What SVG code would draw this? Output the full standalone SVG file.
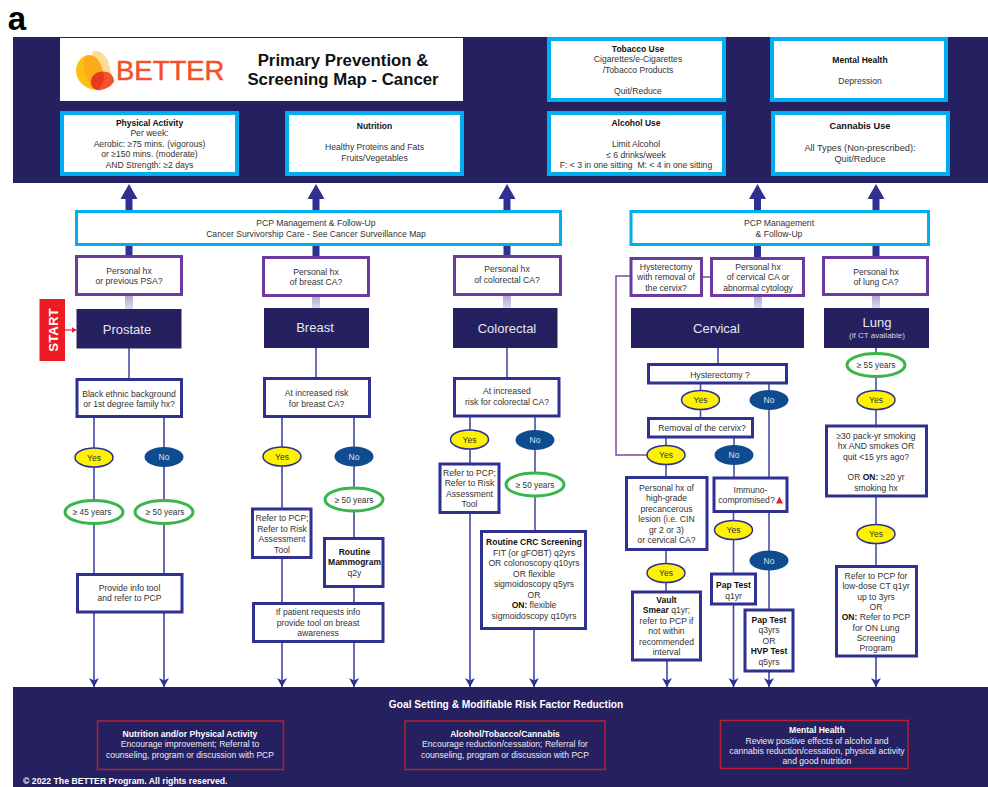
<svg xmlns="http://www.w3.org/2000/svg" width="988" height="787" viewBox="0 0 988 787">
<style>
text{font-family:"Liberation Sans",Arial,sans-serif;font-size:8.600px;fill:#333;text-anchor:middle}
.b{font-weight:bold;fill:#111;font-size:8.500px}
.band{fill:#25205f}
.cy{fill:#fff;stroke:#00aeef;stroke-width:4}
.pc{fill:#fff;stroke:#00aeef;stroke-width:3}
.pu{fill:#fff;stroke:#6a3a9c;stroke-width:3}
.bx{fill:#fff;stroke:#2e3192;stroke-width:3}
.dis{fill:#25205f}
.dl{font-size:13px;fill:#e6e6f2}
.yes{fill:#fff200;stroke:#2e3192;stroke-width:1.5}
.no{fill:#0f4c8f}
.ol{font-size:8.500px}
.nl{font-size:8.500px;fill:#d8e2f0}
.gr{fill:#fff;stroke:#39b54a;stroke-width:3}
.gt{font-size:8.300px}
.rd{fill:none;stroke:#b5202f;stroke-width:1.5}
.w{fill:#ecebf5;font-size:8.600px}
.wb{fill:#fff;font-weight:bold;font-size:8.600px}
.c{fill:none;stroke:#4a50a8;stroke-width:1.6}
.a{fill:none;stroke:#3f45a3;stroke-width:1.6;marker-end:url(#dn)}
.up{fill:none;stroke:#2e3192;stroke-width:7;marker-end:url(#upm)}
.pl{fill:none;stroke:#7a4aa8;stroke-width:1.5}
</style>
<defs>
<marker id="dn" markerUnits="userSpaceOnUse" markerWidth="12" markerHeight="11" refX="6" refY="10" viewBox="0 0 12 11"><path d="M1 1 L6 3.500 L11 1 L6 10Z" fill="#2e3192"/></marker>
<marker id="upm" markerUnits="userSpaceOnUse" markerWidth="18" markerHeight="16" refX="9" refY="15.500" viewBox="0 0 18 16"><path d="M0.500 15.500 L9 0.500 L17.500 15.500Z" fill="#2e3192"/></marker>
<marker id="rda" markerUnits="userSpaceOnUse" markerWidth="5" markerHeight="6" refX="4.500" refY="3" orient="auto" viewBox="0 0 5 6"><path d="M0 0 L5 3 L0 6Z" fill="#ed1c24"/></marker>
<linearGradient id="fade" x1="0" y1="0" x2="0" y2="1"><stop offset="0" stop-color="#a7a7d2"/><stop offset="1" stop-color="#dedeee"/></linearGradient>
</defs>

<rect width="988" height="787" fill="#fff"/>
<text x="17" y="30" style="font-size:33px;font-weight:bold;fill:#000">a</text>

<rect id="band-top" class="band" x="13" y="37" width="975" height="146"/>
<rect id="band-bottom" class="band" x="13" y="687" width="975" height="100"/>

<g id="connectors">
<g id="up-arrows">
<path class="up" d="M129 211V199"/><path class="up" d="M316 211V199"/><path class="up" d="M507 211V199"/><path class="up" d="M757.500 211V199"/><path class="up" d="M876 211V199"/>
<path d="M125.500 245h7v11h-7zM312.500 245h7v12h-7zM503.500 245h7v11h-7zM754 245h7v13h-7zM872.500 245h7v12h-7z" fill="#2e3192"/>
<path d="M125 295h8v14h-8zM312 296h8v12h-8zM503 295h8v13h-8zM754 296h8v12h-8zM872 295h8v13h-8z" fill="url(#fade)"/>
</g>
<path d="M65 330H76" fill="none" stroke="#ed1c24" stroke-width="1.200" marker-end="url(#rda)"/>
<path class="c" d="M129 348V379M316 348V378M507 348V378M718 348V364M876 348V354M876 377V426M876 496V566"/>
<path class="a" d="M94 417V687"/><path class="a" d="M164 417V687"/>
<path class="a" d="M282 417V687"/><path class="a" d="M354 417V687"/>
<path class="a" d="M470 416V687"/><path class="c" d="M535 416V531"/><path class="a" d="M534 629V687"/>
<path class="c" d="M700.500 383V418M666 437V477M666 550V592M734 437V477M733.500 512V574"/>
<path class="c" d="M769 383V477M769 512V610"/>
<path class="a" d="M667 660V687"/><path class="a" d="M733.500 604V687"/><path class="a" d="M769 671V687"/><path class="a" d="M876 656V687"/>
<path class="pl" d="M630 276H616V455H648"/>
<path class="pl" d="M702 277H711"/>
</g>

<g id="logo-box">
<rect x="60" y="38" width="403" height="63" fill="#fff"/>
<path d="M92 52C100 48 108 56 110 68L111 76L92 80Z" fill="#fedc95"/>
<path d="M88 55C81 56 76 63 76 71C76 80 84 88 94 90L97 70Z" fill="#fdc010"/>
<path d="M86 56C94 52 102 62 104 76L94 89C88 84 83 70 84 62Z" fill="#fbaa1c"/>
<path d="M91 82C91 74 100 70 107 72C112 73 114 78 114 81C113 86 103 91 97 90C93 89 91 86 91 82Z" fill="#f4532f"/>
<path d="M91 82C91 75 98 71 103 72C106 78 102 87 97 90C93 89 91 86 91 82Z" fill="#e93a1f"/>
<text x="116" y="80" style="font-size:27.500px;fill:#f4502a;stroke:#f4502a;stroke-width:0.500;text-anchor:start">BETTER</text>
<text x="343" y="65.500" style="font-size:16.800px;font-weight:bold;fill:#111">Primary Prevention &amp;</text>
<text x="343" y="85" style="font-size:16.800px;font-weight:bold;fill:#111">Screening Map - Cancer</text>
</g>

<g id="physical-activity"><rect class="cy" x="62" y="113" width="175" height="61"/>
<text x="149.500" y="125.500" class="b">Physical Activity</text><text x="149.500" y="136">Per week:</text><text x="149.500" y="146.500">Aerobic: ≥75 mins. (vigorous)</text><text x="149.500" y="157">or ≥150 mins. (moderate)</text><text x="149.500" y="167.500">AND Strength: ≥2 days</text></g>
<g id="nutrition"><rect class="cy" x="287" y="113" width="175" height="61"/>
<text x="374.500" y="129" class="b">Nutrition</text><text x="374.500" y="150">Healthy Proteins and Fats</text><text x="374.500" y="160.500">Fruits/Vegetables</text></g>
<g id="tobacco"><rect class="cy" x="549" y="39" width="175" height="61"/>
<text x="638" y="51.500" class="b">Tobacco Use</text><text x="638" y="62">Cigarettes/e-Cigarettes</text><text x="638" y="72.500">/Tobacco Products</text><text x="638" y="93.500">Quit/Reduce</text></g>
<g id="mental-health"><rect class="cy" x="772" y="39" width="174" height="61"/>
<text x="860" y="63" class="b">Mental Health</text><text x="860" y="84">Depression</text></g>
<g id="alcohol"><rect class="cy" x="549" y="113" width="175" height="61"/>
<text x="636" y="126" class="b">Alcohol Use</text><text x="636" y="147">Limit Alcohol</text><text x="636" y="157.500">≤ 6 drinks/week</text><text x="636" y="167.500" xml:space="preserve">F: &lt; 3 in one sitting  M: &lt; 4 in one sitting</text></g>
<g id="cannabis"><rect class="cy" x="773" y="113" width="175" height="61"/>
<text x="860" y="129" class="b" style="font-size:9.200px">Cannabis Use</text><text x="860" y="151" style="font-size:9.200px">All Types (Non-prescribed):</text><text x="860" y="162" style="font-size:9.200px">Quit/Reduce</text></g>

<g id="pcp-1"><rect class="pc" x="76.500" y="211.500" width="484" height="33"/><text x="316" y="226">PCP Management &amp; Follow-Up</text><text x="316" y="237">Cancer Survivorship Care - See Cancer Surveillance Map</text></g>
<g id="pcp-2"><rect class="pc" x="631" y="211.500" width="297.500" height="33"/><text x="779" y="226">PCP Management</text><text x="779" y="237">&amp; Follow-Up</text></g>

<g id="q-prostate-hx"><rect class="pu" x="76.500" y="256.500" width="105" height="38"/><text x="129" y="273.500">Personal hx</text><text x="129" y="284">or previous PSA?</text></g>
<g id="q-breast-hx"><rect class="pu" x="263.500" y="257.500" width="105" height="38"/><text x="316" y="274.500">Personal hx</text><text x="316" y="285">of breast CA?</text></g>
<g id="q-colorectal-hx"><rect class="pu" x="454.500" y="256.500" width="106" height="38"/><text x="507" y="272">Personal hx</text><text x="507" y="282.500">of colorectal CA?</text></g>
<g id="q-hysterectomy-removal"><rect class="pu" x="631" y="258.500" width="70.500" height="37"/><text x="666" y="269.500">Hysterectomy</text><text x="666" y="280">with removal of</text><text x="666" y="290.500">the cervix?</text></g>
<g id="q-cervical-hx"><rect class="pu" x="711.500" y="258.500" width="92" height="37"/><text x="758" y="269.500">Personal hx</text><text x="758" y="280">of cervical CA or</text><text x="758" y="290.500">abnormal cytology</text></g>
<g id="q-lung-hx"><rect class="pu" x="823.500" y="257.500" width="104" height="37"/><text x="876" y="274.500">Personal hx</text><text x="876" y="285">of lung CA?</text></g>

<g id="start"><rect x="39.500" y="299" width="25.500" height="62" fill="#ed1c24"/><text transform="translate(57.500 330) rotate(-90)" style="font-size:13.300px;font-weight:bold;fill:#fff">START</text></g>
<g id="prostate"><rect class="dis" x="76.500" y="309" width="105" height="39.500"/><text x="127" y="334" class="dl">Prostate</text></g>
<g id="breast"><rect class="dis" x="264" y="308" width="105" height="40"/><text x="315" y="332" class="dl">Breast</text></g>
<g id="colorectal"><rect class="dis" x="453" y="308" width="104.500" height="40"/><text x="507" y="332.500" class="dl">Colorectal</text></g>
<g id="cervical"><rect class="dis" x="631" y="308" width="173" height="40"/><text x="716.500" y="333" class="dl">Cervical</text></g>
<g id="lung"><rect class="dis" x="824" y="308" width="105" height="40"/><text x="877" y="327" class="dl">Lung</text><text x="877" y="338" style="font-size:8px;fill:#d5d5e8">(if CT available)</text></g>

<g id="prostate-q"><rect class="bx" x="77" y="379.500" width="104.500" height="37"/><text x="129" y="396.500">Black ethnic background</text><text x="129" y="407">or 1st degree family hx?</text></g>
<g id="prostate-yes"><ellipse class="yes" cx="94" cy="457.500" rx="19" ry="9.500"/><text x="94" y="460.500" class="ol">Yes</text></g>
<g id="prostate-no"><ellipse class="no" cx="164" cy="457" rx="19.500" ry="10"/><text x="164" y="460" class="nl">No</text></g>
<g id="prostate-45"><ellipse class="gr" cx="94" cy="512" rx="29" ry="11.500"/><text x="92" y="515" class="gt">≥ 45 years</text></g>
<g id="prostate-50"><ellipse class="gr" cx="164" cy="512" rx="29" ry="11.500"/><text x="165" y="515" class="gt">≥ 50 years</text></g>
<g id="prostate-info"><rect class="bx" x="77.500" y="574.500" width="104.500" height="37.500"/><text x="129.500" y="590.500">Provide info tool</text><text x="129.500" y="601">and refer to PCP</text></g>

<g id="breast-q"><rect class="bx" x="264.500" y="378.500" width="105" height="38"/><text x="316.500" y="396">At increased risk</text><text x="316.500" y="407">for breast CA?</text></g>
<g id="breast-yes"><ellipse class="yes" cx="282" cy="456.500" rx="19" ry="9.500"/><text x="282" y="459.500" class="ol">Yes</text></g>
<g id="breast-no"><ellipse class="no" cx="354" cy="456.500" rx="19.500" ry="10"/><text x="354" y="459.500" class="nl">No</text></g>
<g id="breast-50"><ellipse class="gr" cx="354" cy="499.500" rx="29" ry="11.500"/><text x="354" y="502.500" class="gt">≥ 50 years</text></g>
<g id="breast-refer"><rect class="bx" x="252.500" y="509" width="58.500" height="48.500"/><text x="282" y="521">Refer to PCP;</text><text x="282" y="531.500">Refer to Risk</text><text x="282" y="542">Assessment</text><text x="282" y="552.500">Tool</text></g>
<g id="breast-mammogram"><rect class="bx" x="324.500" y="538.500" width="58.500" height="48"/><text x="354.500" y="554.500" class="b">Routine</text><text x="354.500" y="565" class="b">Mammogram</text><text x="354.500" y="575.500">q2y</text></g>
<g id="breast-awareness"><rect class="bx" x="253.500" y="603.500" width="129.500" height="38"/><text x="318" y="615">If patient requests info</text><text x="318" y="625.500">provide tool on breast</text><text x="318" y="636">awareness</text></g>

<g id="colorectal-q"><rect class="bx" x="454.500" y="378.500" width="104.500" height="37.500"/><text x="507" y="394">At increased</text><text x="507" y="404.500">risk for colorectal CA?</text></g>
<g id="colorectal-yes"><ellipse class="yes" cx="469.500" cy="439.500" rx="19" ry="9.500"/><text x="469.500" y="442.500" class="ol">Yes</text></g>
<g id="colorectal-no"><ellipse class="no" cx="535" cy="440" rx="19.500" ry="10"/><text x="535" y="443" class="nl">No</text></g>
<g id="colorectal-refer"><rect class="bx" x="440" y="464" width="59" height="48.500"/><text x="469.500" y="475.500">Refer to PCP;</text><text x="469.500" y="486">Refer to Risk</text><text x="469.500" y="496.500">Assessment</text><text x="469.500" y="507">Tool</text></g>
<g id="colorectal-50"><ellipse class="gr" cx="535" cy="484.500" rx="29" ry="11.500"/><text x="535" y="487.500" class="gt">≥ 50 years</text></g>
<g id="colorectal-routine"><rect class="bx" x="481.500" y="531.500" width="104" height="97"/><text x="534" y="545" class="b">Routine CRC Screening</text><text x="534" y="555.500">FIT (or gFOBT) q2yrs</text><text x="534" y="566">OR colonoscopy q10yrs</text><text x="534" y="576.500">OR flexible</text><text x="534" y="587">sigmoidoscopy q5yrs</text><text x="534" y="597.500">OR</text><text x="534" y="608"><tspan class="b">ON:</tspan> flexible</text><text x="534" y="618.500">sigmoidoscopy q10yrs</text></g>

<g id="cervical-hysterectomy"><rect class="bx" x="648.500" y="364.500" width="138" height="18.500"/><text x="720" y="378">Hysterectomy ?</text></g>
<g id="cervical-yes-1"><ellipse class="yes" cx="700.500" cy="400" rx="19" ry="9.500"/><text x="700.500" y="403" class="ol">Yes</text></g>
<g id="cervical-no-1"><ellipse class="no" cx="769" cy="400" rx="19.500" ry="10"/><text x="769" y="403" class="nl">No</text></g>
<g id="cervical-removal"><rect class="bx" x="648.500" y="418.500" width="104" height="18.500"/><text x="702" y="431">Removal of the cervix?</text></g>
<g id="cervical-yes-2"><ellipse class="yes" cx="666" cy="455" rx="19" ry="9.500"/><text x="666" y="458" class="ol">Yes</text></g>
<g id="cervical-no-2"><ellipse class="no" cx="734" cy="455" rx="19.500" ry="10"/><text x="734" y="458" class="nl">No</text></g>
<g id="cervical-lesion"><rect class="bx" x="626.500" y="477.500" width="80.500" height="72"/><text x="666.500" y="490.500">Personal hx of</text><text x="666.500" y="501">high-grade</text><text x="666.500" y="511.500">precancerous</text><text x="666.500" y="522">lesion (i.e. CIN</text><text x="666.500" y="532.500">gr 2 or 3)</text><text x="666.500" y="543">or cervical CA?</text></g>
<g id="cervical-immuno"><rect class="bx" x="714" y="478" width="73" height="33.500"/><text x="750.500" y="492.700">Immuno-</text><text x="746.500" y="503">compromised?</text><path d="M776 503.500L779.500 496.500L783 503.500Z" fill="#ed1c24"/></g>
<g id="cervical-yes-3"><ellipse class="yes" cx="733.500" cy="530" rx="19" ry="9.500"/><text x="733.500" y="533" class="ol">Yes</text></g>
<g id="cervical-no-3"><ellipse class="no" cx="769" cy="560.500" rx="19.500" ry="10"/><text x="769" y="563.500" class="nl">No</text></g>
<g id="cervical-yes-4"><ellipse class="yes" cx="666" cy="573" rx="19" ry="9.500"/><text x="666" y="576" class="ol">Yes</text></g>
<g id="cervical-vault"><rect class="bx" x="632.500" y="592" width="68" height="68"/><text x="666.500" y="602.500" class="b">Vault</text><text x="666.500" y="613"><tspan class="b">Smear</tspan> q1yr;</text><text x="666.500" y="623.500">refer to PCP if</text><text x="666.500" y="634">not within</text><text x="666.500" y="644.500">recommended</text><text x="666.500" y="655">interval</text></g>
<g id="cervical-pap-1"><rect class="bx" x="711.500" y="574" width="44" height="30"/><text x="733.500" y="588" class="b">Pap Test</text><text x="733.500" y="598.500">q1yr</text></g>
<g id="cervical-pap-2"><rect class="bx" x="745" y="610" width="48" height="61"/><text x="769" y="622.500" class="b">Pap Test</text><text x="769" y="633">q3yrs</text><text x="769" y="643.500">OR</text><text x="769" y="654" class="b">HVP Test</text><text x="769" y="664.500">q5yrs</text></g>

<g id="lung-55"><ellipse class="gr" cx="876" cy="365" rx="29" ry="11.500"/><text x="876" y="368" class="gt">≥ 55 years</text></g>
<g id="lung-yes-1"><ellipse class="yes" cx="876" cy="400" rx="19" ry="9.500"/><text x="876" y="403" class="ol">Yes</text></g>
<g id="lung-q"><rect class="bx" x="826.500" y="426" width="100" height="70"/><text x="876" y="438.500">≥30 pack-yr smoking</text><text x="876" y="449">hx AND smokes OR</text><text x="876" y="459.500">quit &lt;15 yrs ago?</text><text x="876" y="480">OR <tspan class="b">ON:</tspan> ≥20 yr</text><text x="876" y="490.500">smoking hx</text></g>
<g id="lung-yes-2"><ellipse class="yes" cx="876" cy="534" rx="19" ry="9.500"/><text x="876" y="537" class="ol">Yes</text></g>
<g id="lung-refer"><rect class="bx" x="836.500" y="566.500" width="80" height="89.500"/><text x="876" y="578.500">Refer to PCP for</text><text x="876" y="589">low-dose CT q1yr</text><text x="876" y="599.500">up to 3yrs</text><text x="876" y="610">OR</text><text x="876" y="620"><tspan class="b">ON:</tspan> Refer to PCP</text><text x="876" y="630.500">for ON Lung</text><text x="876" y="641">Screening</text><text x="876" y="651">Program</text></g>

<g id="goal-heading"><text x="506" y="708" style="font-size:10.200px;font-weight:bold;fill:#fff">Goal Setting &amp; Modifiable Risk Factor Reduction</text></g>
<g id="goal-nutrition"><rect class="rd" x="97.500" y="721" width="186" height="48.500"/><text x="190" y="737" class="wb">Nutrition and/or Physical Activity</text><text x="190" y="747" class="w">Encourage improvement; Referral to</text><text x="190" y="758" class="w">counseling, program or discussion with PCP</text></g>
<g id="goal-alcohol"><rect class="rd" x="405" y="721" width="200" height="48.500"/><text x="505" y="737" class="wb">Alcohol/Tobacco/Cannabis</text><text x="505" y="747" class="w">Encourage reduction/cessation; Referral for</text><text x="505" y="758" class="w">counseling, program or discussion with PCP</text></g>
<g id="goal-mental"><rect class="rd" x="720.500" y="720.500" width="187.500" height="48"/><text x="817" y="733" class="wb">Mental Health</text><text x="817" y="744" class="w">Review positive effects of alcohol and</text><text x="817" y="754" class="w">cannabis reduction/cessation, physical activity</text><text x="817" y="764" class="w">and good nutrition</text></g>
<text x="23" y="784" style="font-size:8.700px;font-weight:bold;fill:#fff;text-anchor:start">© 2022 The BETTER Program. All rights reserved.</text>
</svg>
